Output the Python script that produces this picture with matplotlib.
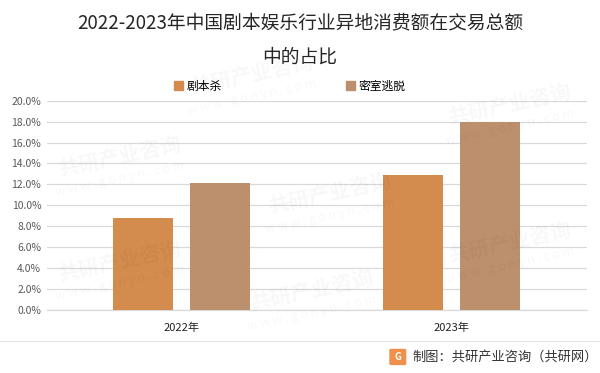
import matplotlib
matplotlib.use("Agg")
import matplotlib.pyplot as plt
from matplotlib.patches import FancyBboxPatch, Patch
import numpy as np

plt.rcParams['font.family'] = ['Noto Sans CJK SC', 'DejaVu Sans']

years = ["2022年", "2023年"]
series_names = ["剧本杀", "密室逃脱"]
jubensha = [8.8, 12.9]
mishi = [12.1, 18.0]
colors = ["#D38B4E", "#BC8F6D"]
yticks = [0, 2, 4, 6, 8, 10, 12, 14, 16, 18, 20]

fig = plt.figure(figsize=(6, 3.73), dpi=100)
ax = fig.add_axes([0.078, 0.169, 0.900, 0.561])

x = np.arange(len(years))
w = 0.222
off = 0.1425
ax.bar(x - off, jubensha, w, color=colors[0], zorder=3)
ax.bar(x + off, mishi, w, color=colors[1], zorder=3)

ax.set_xlim(-0.5, 1.5)
ax.set_ylim(0, 20)
ax.set_yticks(yticks)
ax.set_yticklabels([f"{v:.1f}%" for v in yticks], fontsize=7.5, color="#595959")
ax.set_xticks(x)
ax.set_xticklabels(years, fontsize=8, color="#222222")
ax.tick_params(length=0, pad=4)
ax.tick_params(axis='x', pad=9)
ax.grid(axis='y', color="#D9D9D9", linewidth=0.9, zorder=0)
for s in ["top", "right", "left"]:
    ax.spines[s].set_visible(False)
ax.spines["bottom"].set_color("#D9D9D9")
ax.spines["bottom"].set_linewidth(0.9)

handles = [Patch(color=colors[0]), Patch(color=colors[1])]
fig.legend(handles, series_names, loc="center", bbox_to_anchor=(0.483, 0.769),
           ncol=2, frameon=False, fontsize=8.5, handlelength=0.8, handleheight=0.8,
           handletextpad=0.3, columnspacing=10.5)

fig.text(0.5, 0.938, "2022-2023年中国剧本娱乐行业异地消费额在交易总额", ha="center", va="center",
         fontsize=13.5, color="#262626")
fig.text(0.5, 0.847, "中的占比", ha="center", va="center", fontsize=13.5, color="#262626")

# footer
fig.add_artist(plt.Line2D([0, 1], [1 - 341 / 373, 1 - 341 / 373], color="#E6E6E6", linewidth=0.8))
logo = FancyBboxPatch((0.652, 0.025), 0.022, 0.036, boxstyle="round,pad=0.002",
                      transform=fig.transFigure, color="#F0904A")
fig.add_artist(logo)
fig.text(0.663, 0.043, "G", ha="center", va="center", fontsize=7, color="white", weight="bold")
fig.text(0.688, 0.043, "制图：共研产业咨询（共研网）", ha="left", va="center",
         fontsize=9.5, color="#333333")

# faint watermarks
for (wx, wy) in [(0.42, 0.80), (0.85, 0.72), (0.2, 0.58), (0.55, 0.48), (0.85, 0.35),
                 (0.2, 0.3), (0.52, 0.22)]:
    fig.text(wx, wy, "共研产业咨询", fontsize=15, weight="bold", color="#000000", alpha=0.03,
             rotation=12, ha="center", va="center")
    fig.text(wx, wy - 0.06, "w w w . g o n y n . c o m", fontsize=9, color="#000000", alpha=0.03,
             rotation=12, ha="center", va="center")

fig.savefig("out.png", dpi=100)
